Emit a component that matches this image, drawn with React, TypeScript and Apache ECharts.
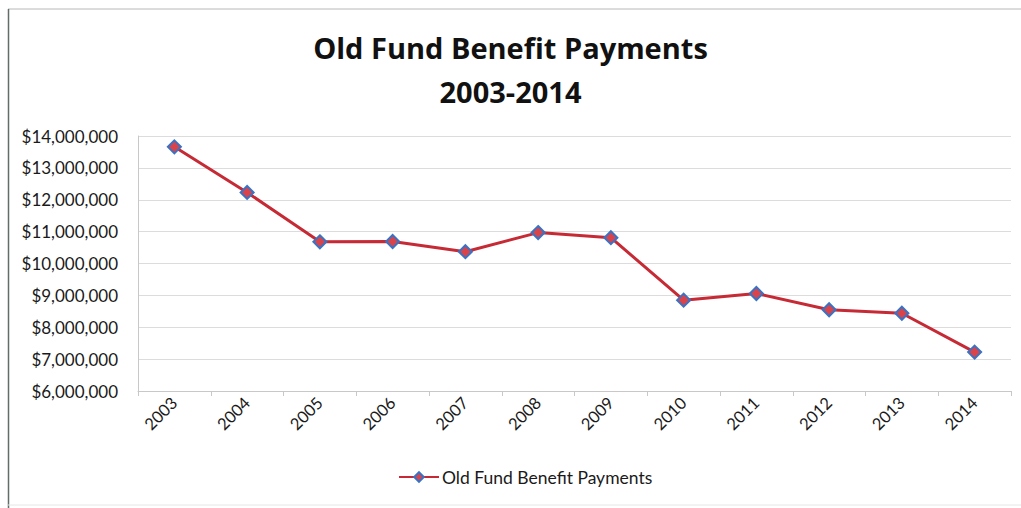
import React, { useEffect, useRef } from "react";
import * as echarts from "echarts";

const years = ["2003", "2004", "2005", "2006", "2007", "2008", "2009", "2010", "2011", "2012", "2013", "2014"];
const payments = [13660000, 12230000, 10680000, 10690000, 10370000, 10970000, 10810000, 8850000, 9060000, 8550000, 8440000, 7220000];
const seriesName = "Old Fund Benefit Payments";
const chartTitle = "Old Fund Benefit Payments\n2003-2014";

const FONT = "Lato, 'Open Sans', sans-serif";
const TITLE_FONT = "'Open Sans', Lato, sans-serif";

export default function App() {
  const ref = useRef<HTMLDivElement>(null);
  useEffect(() => {
    if (!ref.current) return;
    const chart = echarts.init(ref.current, undefined, { renderer: "svg" });
    chart.setOption({
      animation: false,
      backgroundColor: "#ffffff",
      textStyle: { fontFamily: FONT },
      title: {
        text: chartTitle,
        left: "center",
        top: 20,
        textStyle: { fontFamily: TITLE_FONT, fontSize: 29, fontWeight: "bold", color: "#111", lineHeight: 44 },
      },
      grid: { left: 138, right: 10, top: 136, bottom: 117, containLabel: false },
      xAxis: {
        type: "category",
        data: years,
        boundaryGap: true,
        axisLine: { show: true, lineStyle: { color: "#c8c8c8", width: 1 } },
        axisTick: { show: true, length: 5, lineStyle: { color: "#c8c8c8" } },
        axisLabel: { rotate: 45, fontSize: 16.5, color: "#1a1a1a", margin: 9, fontFamily: FONT },
      },
      yAxis: {
        type: "value",
        min: 6000000,
        max: 14000000,
        interval: 1000000,
        axisLine: { show: true, lineStyle: { color: "#c8c8c8", width: 1 } },
        axisTick: { show: false },
        splitLine: { show: true, lineStyle: { color: "#dcdcdc", width: 1 } },
        axisLabel: {
          fontSize: 17,
          color: "#1a1a1a",
          margin: 20,
          fontFamily: FONT,
          formatter: (v: number) => "$" + v.toLocaleString("en-US"),
        },
      },
      legend: {
        bottom: 17,
        left: 393,
        itemWidth: 40,
        itemHeight: 12,
        itemGap: 4,
        textStyle: { fontSize: 17.5, color: "#1a1a1a", fontFamily: FONT, padding: [0, 0, 0, -2] },
        data: [seriesName],
      },
      series: [
        {
          name: seriesName,
          type: "line",
          data: payments,
          symbol: "diamond",
          symbolSize: 13,
          lineStyle: { color: "#c62a35", width: 3 },
          itemStyle: { color: "#d9444a", borderColor: "#3a72c4", borderWidth: 2 },
        },
      ],
      graphic: [
        { type: "line", shape: { x1: 8, y1: 9, x2: 1021, y2: 9 }, style: { stroke: "#b8b8b8", lineWidth: 1 } },
        { type: "line", shape: { x1: 8.5, y1: 9, x2: 8.5, y2: 508 }, style: { stroke: "#5f6e66", lineWidth: 1.5 } },
        { type: "line", shape: { x1: 8, y1: 505, x2: 1021, y2: 505 }, style: { stroke: "#e6e6e6", lineWidth: 1 } },
      ],
    });
    return () => chart.dispose();
  }, []);
  return (
    <div
      ref={ref}
      style={{ position: "absolute", left: 0, top: 0, width: 1021, height: 508 }}
    />
  );
}
